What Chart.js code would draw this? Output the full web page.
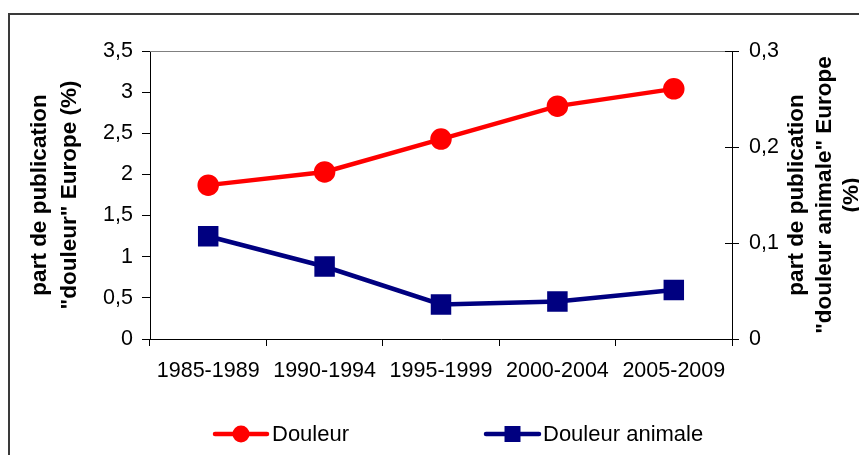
<!DOCTYPE html>
<html>
<head>
<meta charset="utf-8">
<script src="https://cdn.jsdelivr.net/npm/chart.js@4/dist/chart.umd.min.js"></script>
<style>
  html, body { margin: 0; padding: 0; background: #fff; }
  canvas { display: block; }
</style>
</head>
<body>
<canvas id="chart" width="859" height="455"></canvas>
<script>
// data
const periods = ["1985-1989", "1990-1994", "1995-1999", "2000-2004", "2005-2009"];
const douleur = [1.87, 2.03, 2.43, 2.83, 3.04];          // left axis, %
const douleurAnimale = [0.107, 0.0755, 0.036, 0.039, 0.051]; // right axis, %

const leftTitle = ["part de publication", "\"douleur\" Europe (%)"];
const rightTitle = ["part de publication", "\"douleur animale\" Europe", "(%)"];

const RED = "#ff0000";
const NAVY = "#000080";
const FONT = "'Liberation Sans', Arial, sans-serif";

const fmt = v => Number(v.toFixed(2)).toString().replace(".", ",");

// frame, plot top edge, inner half of right ticks, rotated titles, legend
const decor = {
  id: "decor",
  beforeDatasetsDraw(chart) {
    const { ctx, chartArea: a } = chart;
    ctx.save();
    ctx.strokeStyle = "#808080";
    ctx.lineWidth = 1;
    ctx.beginPath();
    ctx.moveTo(a.left, a.top + 0.5);
    ctx.lineTo(a.right, a.top + 0.5);
    ctx.stroke();

    const y2 = chart.scales.y2;
    ctx.strokeStyle = "#000";
    y2.ticks.forEach(t => {
      const py = Math.round(y2.getPixelForValue(t.value)) + 0.5;
      ctx.beginPath();
      ctx.moveTo(a.right - 7, py);
      ctx.lineTo(a.right, py);
      ctx.stroke();
    });
    ctx.restore();
  },
  afterDraw(chart) {
    const { ctx, chartArea: a } = chart;
    ctx.save();
    // outer frame
    ctx.strokeStyle = "#3a3a3a";
    ctx.lineWidth = 2;
    ctx.beginPath();
    ctx.moveTo(9, 470);
    ctx.lineTo(9, 14);
    ctx.lineTo(870, 14);
    ctx.stroke();

    // axis titles
    const midY = (a.top + a.bottom) / 2;
    ctx.fillStyle = "#000";
    ctx.font = "bold 22.5px " + FONT;
    ctx.textAlign = "center";
    ctx.textBaseline = "middle";
    const drawTitle = (lines, xs) => {
      lines.forEach((txt, i) => {
        ctx.save();
        ctx.translate(xs[i], midY);
        ctx.rotate(-Math.PI / 2);
        ctx.fillText(txt, 0, 0);
        ctx.restore();
      });
    };
    drawTitle(leftTitle, [40, 70]);
    drawTitle(rightTitle, [797, 825, 852]);

    // legend
    const ly = 434;
    ctx.font = "22px " + FONT;
    ctx.textAlign = "left";
    const items = [
      { ds: chart.data.datasets[0], x0: 215, x1: 267, tx: 272 },
      { ds: chart.data.datasets[1], x0: 486, x1: 539, tx: 543 }
    ];
    items.forEach(it => {
      ctx.strokeStyle = it.ds.borderColor;
      ctx.lineWidth = it.ds.borderWidth;
      ctx.lineCap = "round";
      ctx.beginPath();
      ctx.moveTo(it.x0, ly);
      ctx.lineTo(it.x1, ly);
      ctx.stroke();
      ctx.fillStyle = it.ds.pointBackgroundColor;
      ctx.strokeStyle = it.ds.pointBackgroundColor;
      Chart.helpers.drawPoint(ctx, {
        pointStyle: it.ds.pointStyle,
        radius: it.ds.pointRadius,
        borderWidth: 0
      }, (it.x0 + it.x1) / 2, ly);
      ctx.fillStyle = "#000";
      ctx.fillText(it.ds.label, it.tx, ly + 1);
    });
    ctx.restore();
  }
};

new Chart(document.getElementById("chart"), {
  type: "line",
  data: {
    labels: periods,
    datasets: [
      {
        label: "Douleur",
        data: douleur,
        yAxisID: "y",
        borderColor: RED,
        backgroundColor: RED,
        pointBackgroundColor: RED,
        pointBorderColor: RED,
        borderWidth: 4.5,
        pointStyle: "circle",
        pointRadius: 8.5,
        pointHoverRadius: 8.5,
        tension: 0
      },
      {
        label: "Douleur animale",
        data: douleurAnimale,
        yAxisID: "y2",
        borderColor: NAVY,
        backgroundColor: NAVY,
        pointBackgroundColor: NAVY,
        pointBorderColor: NAVY,
        borderWidth: 4.5,
        pointStyle: "rect",
        pointRadius: 11.3,
        pointHoverRadius: 11.3,
        tension: 0
      }
    ]
  },
  options: {
    responsive: false,
    animation: false,
    devicePixelRatio: 1,
    layout: { padding: { top: 51, left: 0, right: 0, bottom: 0 } },
    plugins: {
      legend: { display: false },
      tooltip: { enabled: false }
    },
    scales: {
      x: {
        offset: true,
        grid: { offset: true, drawOnChartArea: false, tickLength: 7, color: "#000" },
        border: { color: "#000", width: 1 },
        ticks: { color: "#000", font: { family: FONT, size: 21.5 }, padding: 12, maxRotation: 0, autoSkip: false },
        afterFit(s) { s.height = 116; }
      },
      y: {
        position: "left",
        min: 0,
        max: 3.5,
        grid: { drawOnChartArea: false, tickLength: 8, color: "#000" },
        border: { color: "#000", width: 1 },
        ticks: { stepSize: 0.5, color: "#000", font: { family: FONT, size: 21.5 }, padding: 9, callback: v => fmt(v) },
        afterFit(s) { s.width = 150; }
      },
      y2: {
        position: "right",
        min: 0,
        max: 0.3,
        grid: { drawOnChartArea: false, tickLength: 7, color: "#000" },
        border: { color: "#000", width: 1 },
        ticks: { stepSize: 0.1, color: "#000", font: { family: FONT, size: 21.5 }, padding: 10, callback: v => fmt(v) },
        afterFit(s) { s.width = 127; }
      }
    }
  },
  plugins: [decor]
});
</script>
</body>
</html>
